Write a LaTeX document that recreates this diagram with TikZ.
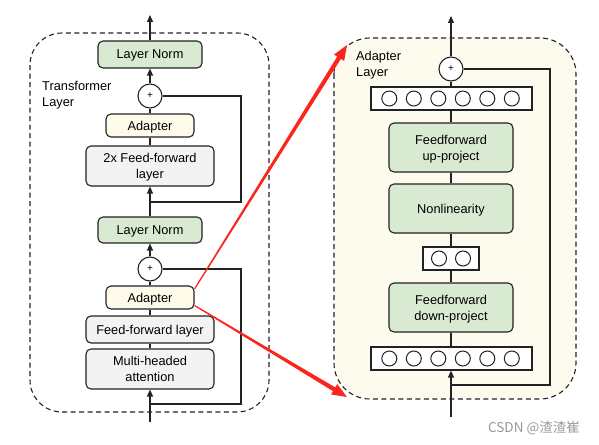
\documentclass[tikz,border=0pt]{standalone}
\usepackage{fontspec}
\setmainfont{Liberation Sans}
\newfontfamily\cjkfont{Noto Sans CJK SC}
\usetikzlibrary{arrows.meta,calc}
\definecolor{gfill}{HTML}{D9EAD3}
\definecolor{yfill}{HTML}{FEFBEA}
\definecolor{lgray}{HTML}{F3F3F3}
\definecolor{bgy}{HTML}{FDFBEE}
\definecolor{redarr}{RGB}{248,38,28}
\definecolor{edge}{HTML}{222222}
\begin{document}
\begin{tikzpicture}[x=1pt,y=-1pt,
  blk/.style={draw=edge, rounded corners=5pt, line width=1.1pt, align=center, inner sep=0pt,
    text depth=0pt, font=\fontsize{12.8}{16}\selectfont},
  grn/.style={blk, fill=gfill},
  ylw/.style={blk, fill=yfill},
  gry/.style={blk, fill=lgray},
  plusnode/.style={draw=edge, circle, line width=1.1pt, fill=white, minimum size=24pt, inner sep=0pt,
    font=\fontsize{10}{12}\selectfont},
  neuronbox/.style={draw=edge, line width=1.1pt, fill=white, inner sep=0pt},
  neuron/.style={draw=edge, circle, line width=1pt, minimum size=15pt, inner sep=0pt},
  conn/.style={draw=edge, line width=1.3pt},
  arr/.style={conn, -{Triangle[length=7pt,width=6pt]}},
  outline/.style={draw=edge, dash pattern=on 5pt off 3.5pt, line width=1.1pt},
  lbl/.style={align=left, inner sep=0pt, font=\fontsize{12.8}{16}\selectfont, anchor=north west}
]
\useasboundingbox (0,0) rectangle (599,444);

% ---------- left: transformer layer ----------
\draw[outline, rounded corners=32pt] (30,33) rectangle (269,412);
\node[lbl] (tlabel) at (42,81) {Transformer\\Layer};

\node[grn, minimum width=104pt, minimum height=27pt] (ln1) at (150,54.5) {Layer Norm};
\node[plusnode] (p1) at (150,96) {+};
\node[ylw, minimum width=88pt, minimum height=23pt] (ad1) at (150,125.5) {Adapter};
\node[gry, minimum width=128pt, minimum height=40pt] (ff2) at (150,166) {2x Feed-forward\\layer};
\node[grn, minimum width=104pt, minimum height=26pt] (ln2) at (150,230) {Layer Norm};
\node[plusnode] (p2) at (150,269) {+};
\node[ylw, minimum width=88pt, minimum height=23pt] (ad2) at (150,297.5) {Adapter};
\node[gry, minimum width=128pt, minimum height=27pt] (ff1) at (150,329.5) {Feed-forward layer};
\node[gry, minimum width=128pt, minimum height=40pt] (mha) at (150,369) {Multi-headed\\attention};

\coordinate (topL) at (150,15);
\coordinate (botL) at (150,422);
\coordinate (skipA) at (241,96);
\coordinate (skipB) at (241,202);
\coordinate (skipJ) at (150,202);
\coordinate (skipC) at (241,269);
\coordinate (skipD) at (241,404);
\coordinate (skipK) at (150,404);

\draw[arr] (ln1.north) -- (topL);
\draw[arr] (p1.north) -- (ln1.south);
\draw[conn] (ad1.north) -- (p1.south);
\draw[conn] (ff2.north) -- (ad1.south);
\draw[arr] (ln2.north) -- (ff2.south);
\draw[conn] (p1.east) -- (skipA) -- (skipB) -- (skipJ);
\draw[arr] (p2.north) -- (ln2.south);
\draw[conn] (ad2.north) -- (p2.south);
\draw[conn] (ff1.north) -- (ad2.south);
\draw[conn] (mha.north) -- (ff1.south);
\draw[arr] (botL) -- (mha.south);
\draw[conn] (p2.east) -- (skipC) -- (skipD) -- (skipK);

% ---------- right: adapter layer ----------
\draw[outline, fill=bgy, rounded corners=36pt] (334,38) rectangle (576,399);
\node[lbl] (alabel) at (356,51) {Adapter\\Layer};

\node[plusnode] (pr) at (451,69) {+};
\node[neuronbox, minimum width=161pt, minimum height=23pt] (nbt) at (451.5,98.5) {};
\foreach \i in {0,...,5}{
  \node[neuron] (nt\i) at (389.3+24.5*\i,98.5) {};
}
\node[grn, minimum width=124pt, minimum height=49pt] (ffup) at (451,147.5) {Feedforward\\up-project};
\node[grn, minimum width=124pt, minimum height=49pt] (nonlin) at (451,208.5) {Nonlinearity};
\node[neuronbox, minimum width=56pt, minimum height=23pt] (nbs) at (451,258.5) {};
\node[neuron] (ns0) at (439,258.5) {};
\node[neuron] (ns1) at (463,258.5) {};
\node[grn, minimum width=124pt, minimum height=49pt] (ffdown) at (451,307.5) {Feedforward\\down-project};
\node[neuronbox, minimum width=161pt, minimum height=23pt] (nbb) at (451.5,358.5) {};
\foreach \i in {0,...,5}{
  \node[neuron] (nb\i) at (389.3+24.5*\i,358.5) {};
}

\coordinate (topR) at (451,16);
\coordinate (botR) at (451,417);
\coordinate (rskA) at (550,69);
\coordinate (rskB) at (550,385);
\coordinate (rskJ) at (451,385);

\draw[arr] (pr.north) -- (topR);
\draw[conn] (nbt.north -| pr) -- (pr.south);
\draw[conn] (ffup.north) -- (nbt.south -| ffup);
\draw[conn] (nonlin.north) -- (ffup.south);
\draw[conn] (nbs.north) -- (nonlin.south);
\draw[conn] (ffdown.north) -- (nbs.south);
\draw[conn] (nbb.north -| ffdown) -- (ffdown.south);
\draw[arr] (botR) -- (nbb.south -| botR);
\draw[conn] (pr.east) -- (rskA) -- (rskB) -- (rskJ);

% ---------- red zoom arrows ----------
\coordinate (rs1) at ($(ad2.east)+(0,-8.5)$);
\coordinate (rt1) at (347,45);
\coordinate (rs2) at ($(ad2.east)+(0,8)$);
\coordinate (rt2) at (347,397);
\foreach \s/\t in {rs1/rt1, rs2/rt2}{
  \coordinate (hb) at ($(\t)!15pt!(\s)$);
  \fill[redarr] ($(\s)!0.6pt!90:(\t)$) -- ($(hb)!2.2pt!-90:(\s)$) -- ($(hb)!6pt!-90:(\s)$) -- (\t)
     -- ($(hb)!6pt!90:(\s)$) -- ($(hb)!2.2pt!90:(\s)$) -- ($(\s)!0.6pt!-90:(\t)$) -- cycle;
}

% ---------- watermark ----------
\node[text=black!40, inner sep=0pt, font=\cjkfont\fontsize{13.5}{15}\selectfont] (wm) at (534,428) {CSDN @渣渣崔};
\end{tikzpicture}
\end{document}
